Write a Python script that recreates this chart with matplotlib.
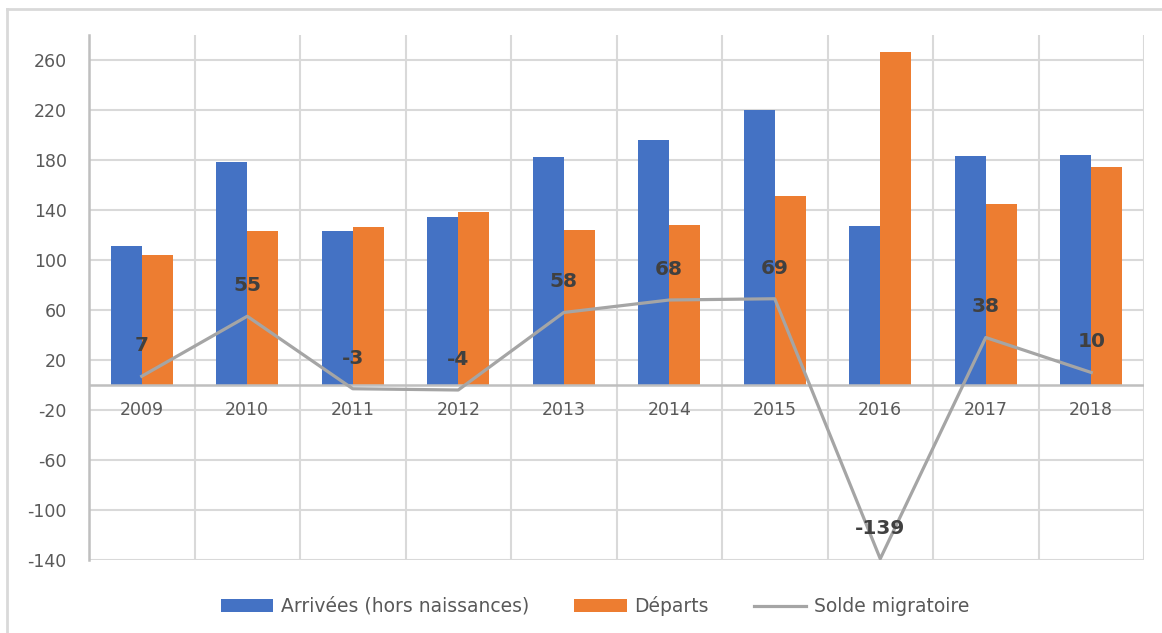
import numpy as np
import matplotlib.pyplot as plt
from matplotlib.lines import Line2D

plt.rcParams["axes.unicode_minus"] = False

# données
annees = ["2009", "2010", "2011", "2012", "2013", "2014", "2015", "2016", "2017", "2018"]
arrivees = [111, 178, 123, 134, 182, 196, 220, 127, 183, 184]
departs = [104, 123, 126, 138, 124, 128, 151, 266, 145, 174]
solde = [7, 55, -3, -4, 58, 68, 69, -139, 38, 10]
yticks = [-140, -100, -60, -20, 20, 60, 100, 140, 180, 220, 260]

bleu = "#4472C4"
orange = "#ED7D31"
gris = "#A5A5A5"
texte = "#595959"

fig = plt.figure(figsize=(11.62, 6.33), dpi=100)
ax = fig.add_axes([89/1162, 1-560/633, (1144-89)/1162, (560-35)/633])

x = np.arange(len(annees))
w = 0.295
b1 = ax.bar(x - w/2, arrivees, w, color=bleu, label="Arrivées (hors naissances)", zorder=3)
b2 = ax.bar(x + w/2, departs, w, color=orange, label="Départs", zorder=3)
l1, = ax.plot(x, solde, color=gris, lw=2.3, label="Solde migratoire", zorder=4)

# étiquettes du solde
for xi, v in zip(x, solde):
    ax.annotate(str(v), (xi, v), xytext=(0, 22), textcoords="offset points",
                ha="center", va="center", fontsize=14.5, fontweight="bold",
                color="#404040", zorder=5)

ax.set_xlim(-0.5, len(annees) - 0.5)
ax.set_ylim(-140, 280)
ax.set_yticks(yticks)
ax.tick_params(axis="y", length=0, labelsize=12.5, labelcolor=texte, pad=16)
ax.set_xticks([])

# grille
for yt in yticks:
    ax.axhline(yt, color="#D9D9D9", lw=1.5, zorder=1)
for b in np.arange(-0.5, len(annees), 1):
    ax.axvline(b, color="#D9D9D9", lw=1.5, zorder=1)
ax.axhline(0, color="#BFBFBF", lw=1.8, zorder=3.5)

for s in ["top", "right", "bottom"]:
    ax.spines[s].set_visible(False)
ax.spines["left"].set_color("#BFBFBF")
ax.spines["left"].set_linewidth(1.8)

# années sous l'axe zéro
for xi, a in zip(x, annees):
    ax.text(xi, -13, a, ha="center", va="top", fontsize=12.5, color=texte, zorder=5)

fig.legend(handles=[b1, b2, l1], loc="center", bbox_to_anchor=(595/1162, 1-606/633),
           ncol=3, frameon=False, fontsize=13.5, labelcolor=texte, handlelength=2.8,
           handleheight=0.65, columnspacing=2.4, handletextpad=0.4)

# cadre extérieur
fig.add_artist(Line2D([7/1162, 1], [1-9/633, 1-9/633], color="#D9D9D9", lw=2))
fig.add_artist(Line2D([7/1162, 7/1162], [0, 1-9/633], color="#D9D9D9", lw=2))

fig.savefig("out.png", dpi=100, facecolor="white")
